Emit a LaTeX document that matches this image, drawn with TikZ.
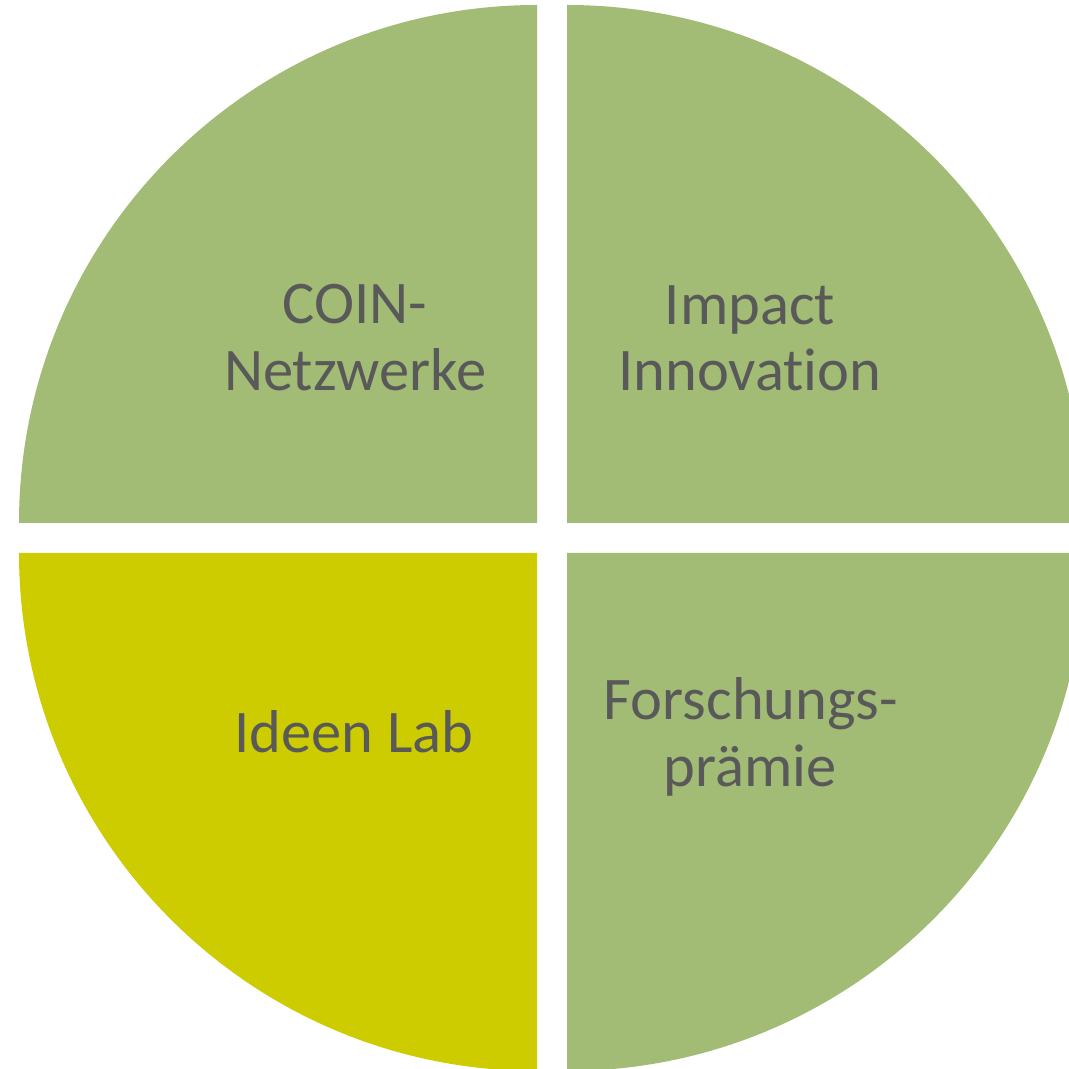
\documentclass[tikz,border=0pt]{standalone}
\usepackage{fontspec}
\setmainfont[Ligatures=NoCommon]{Carlito}
\definecolor{qgreen}{HTML}{A2BC76}
\definecolor{qyellow}{HTML}{CDCC00}
\definecolor{qtext}{HTML}{595959}
\begin{document}
\begin{tikzpicture}[x=1pt,y=1pt,
  quarter/.style={fill=#1,draw=none},
  lbl/.style={anchor=base,inner sep=0pt,text=qtext,font=\fontsize{60.5}{67}\selectfont}]
\useasboundingbox (0,0) rectangle (1069,1069);
\clip (0,0) rectangle (1069,1069);
\fill[white] (0,0) rectangle (1069,1069);
% quarters
\path[quarter=qgreen] (537,546) -- ++(-518,0) arc[start angle=180,end angle=90,radius=518] -- cycle;
\path[quarter=qgreen] (567,546) -- ++(518,0) arc[start angle=0,end angle=90,radius=518] -- cycle;
\path[quarter=qyellow] (537,516) -- ++(-518,0) arc[start angle=180,end angle=270,radius=518] -- cycle;
\path[quarter=qgreen] (567,516) -- ++(518,0) arc[start angle=0,end angle=-90,radius=518] -- cycle;
% labels
\node[lbl] (coin) at (355,745) {COIN-};
\node[lbl] (netz) at (355,678) {Netzwerke};
\node[lbl] (impact) at (750,744) {Impact};
\node[lbl] (innov) at (750,678) {Innovation};
\node[lbl] (ideen) at (354,316) {Ideen Lab};
\node[lbl] (forsch) at (751,349) {Forschungs-};
\node[lbl] (praemie) at (750,282) {prämie};
\end{tikzpicture}
\end{document}
